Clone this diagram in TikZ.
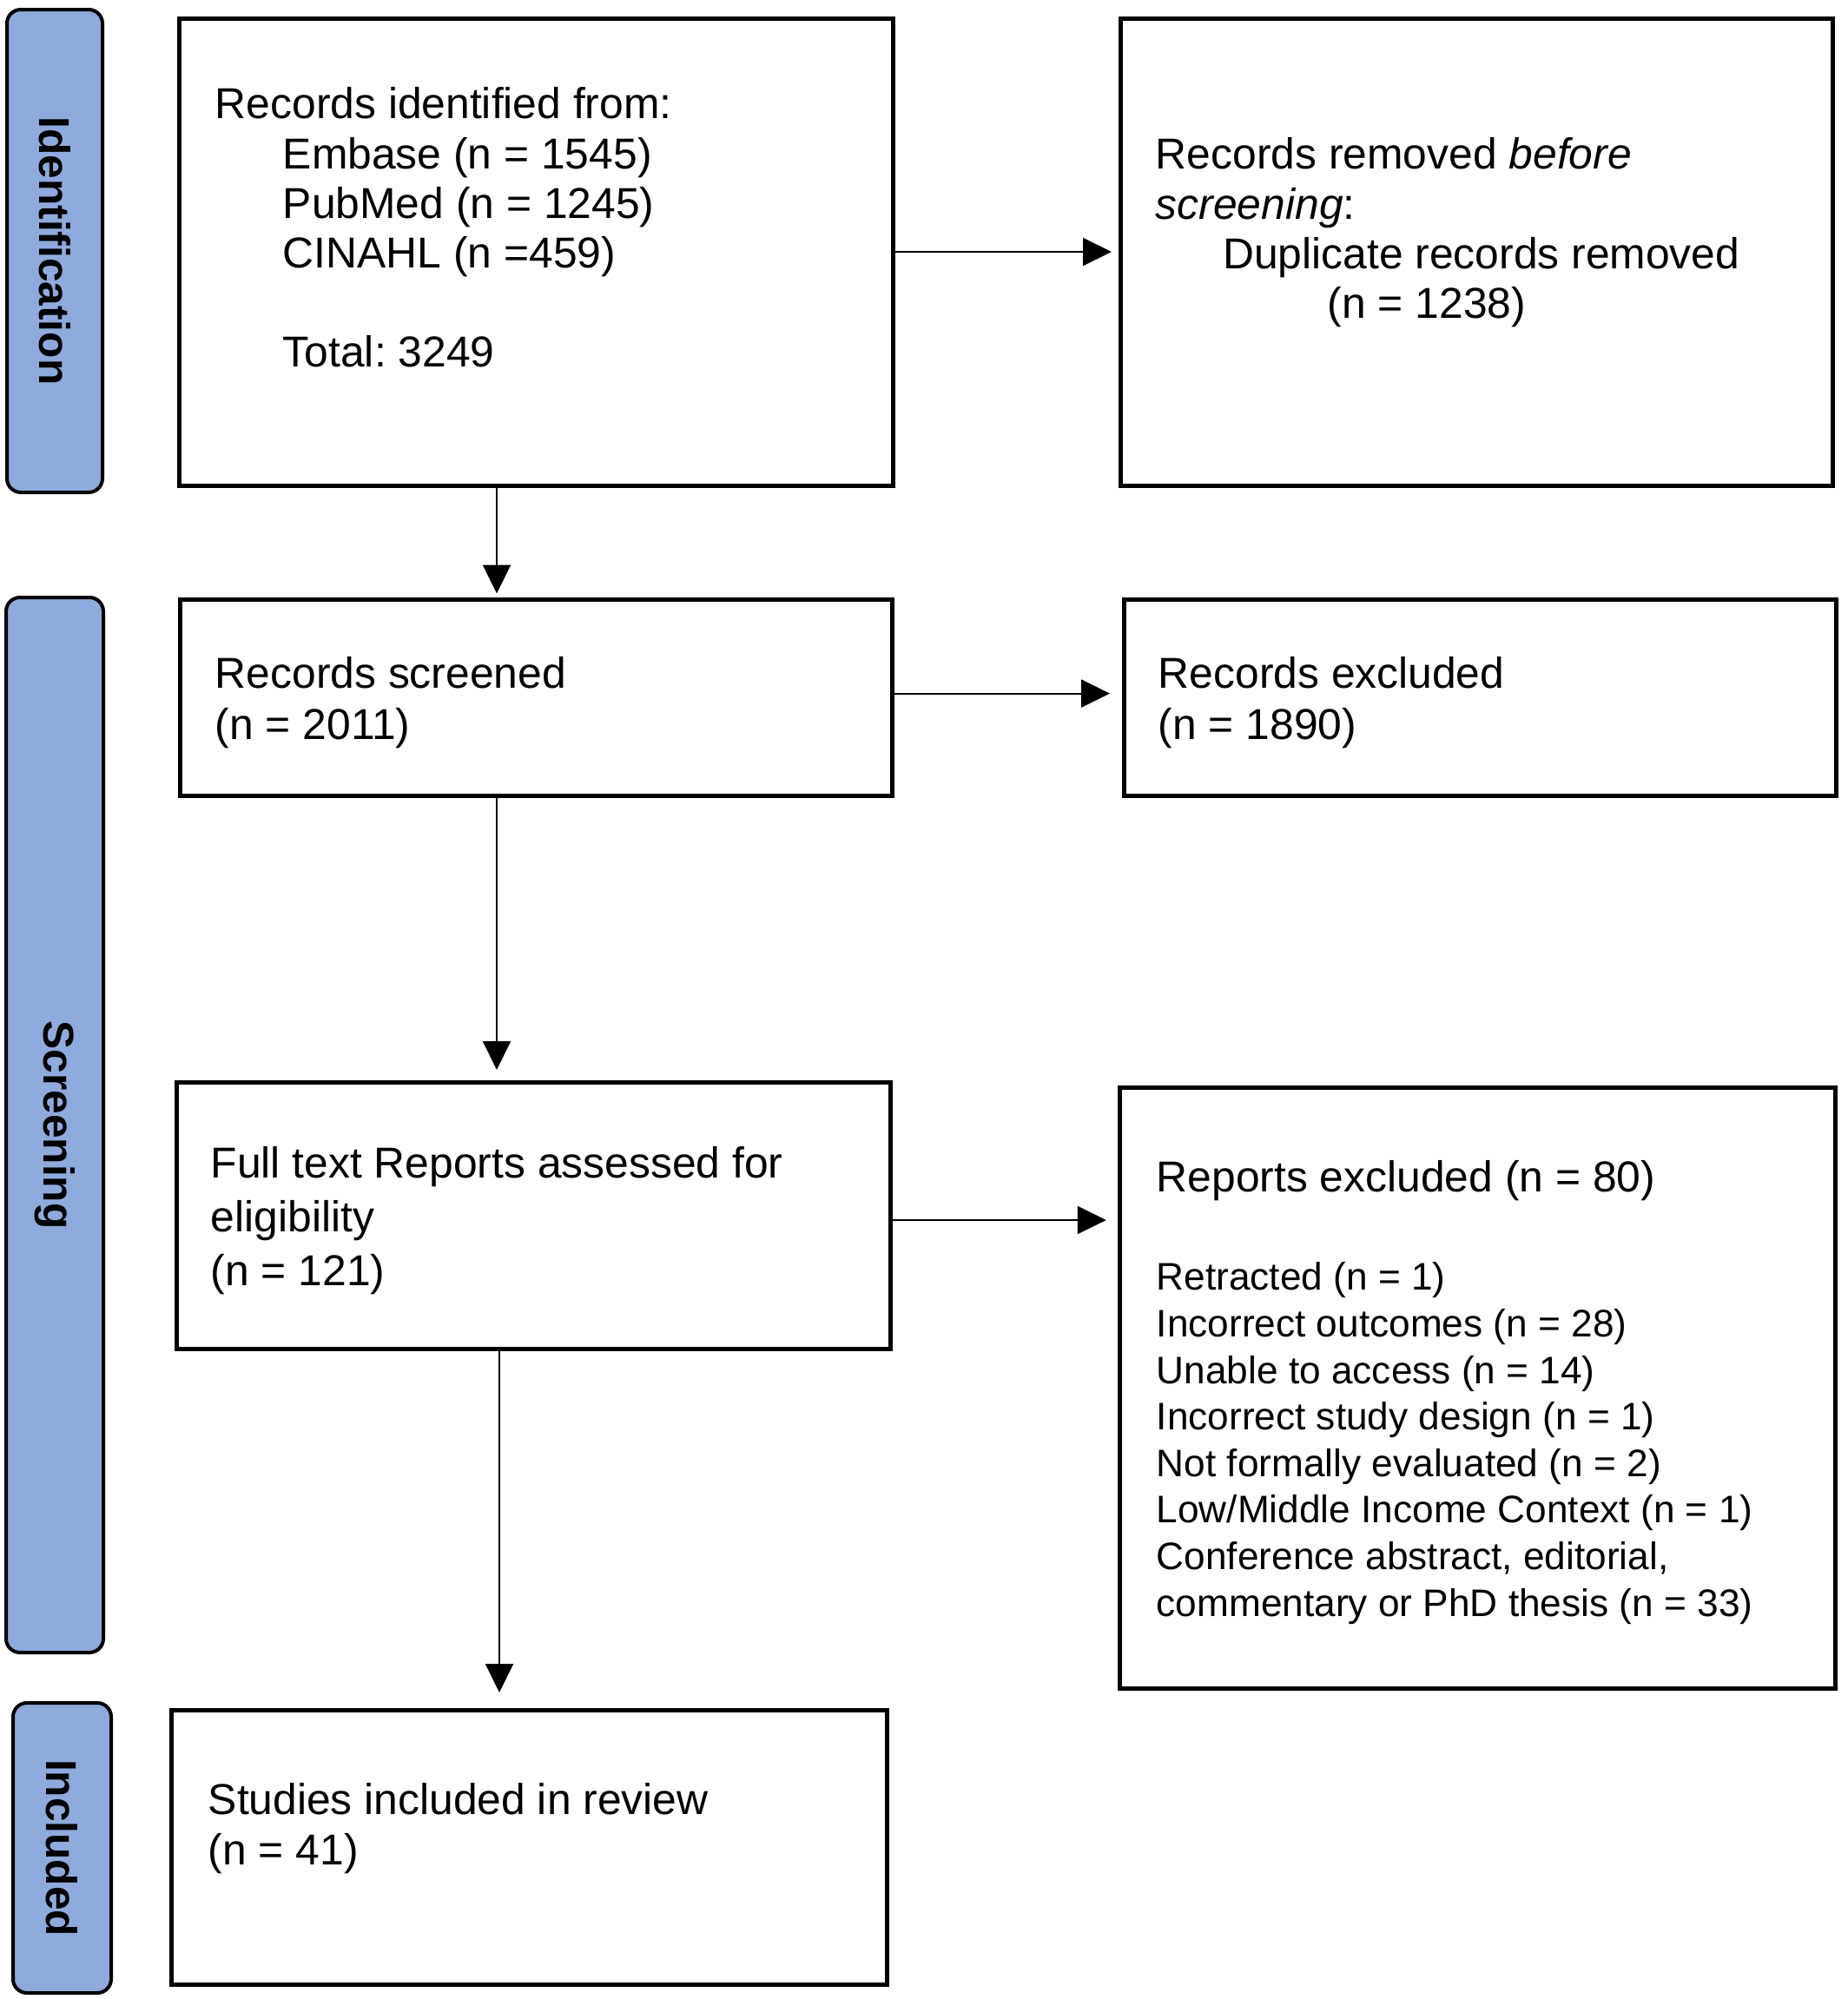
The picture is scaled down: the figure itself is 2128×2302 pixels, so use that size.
\documentclass[tikz,border=0pt]{standalone}
\usepackage{fontspec}
\setmainfont{Liberation Sans}
\usetikzlibrary{arrows.meta}
\definecolor{labblue}{HTML}{8FAADC}
\frenchspacing
\begin{document}
\frenchspacing
\begin{tikzpicture}[x=0.25pt,y=-0.25pt,
  box/.style={draw=black, line width=1.25pt, rectangle, inner sep=0pt},
  phase/.style={draw=black, line width=1pt, fill=labblue, rounded corners=4pt, inner sep=0pt,
    rotate=-90, font=\bfseries\fontsize{12.4}{14}\selectfont},
  txt/.style={anchor=north west, inner sep=0pt, align=left},
  big/.style={font=\fontsize{12.45}{14.3}\selectfont},
  arr/.style={line width=0.5pt, -{Triangle[length=8.25pt,width=8pt]}}]
\fill[white] (0,0) rectangle (2128,2302);
\useasboundingbox (0,0) rectangle (2128,2302);

% phase labels
\node[phase, minimum width=139pt, minimum height=27.5pt] (L1) at (63,289) {Identification};
\node[phase, minimum width=303.75pt, minimum height=28pt] (L2) at (63,1295.5) {Screening};
\node[phase, minimum width=83.5pt, minimum height=28.25pt] (L3) at (71.5,2128) {Included};

% boxes
\node[box, minimum width=205.5pt, minimum height=134.5pt] (b1) at (617,290) {};
\node[box, minimum width=205pt, minimum height=134.5pt] (b2) at (1700.5,290) {};
\node[box, minimum width=205pt, minimum height=56.5pt] (b3) at (617.5,803) {};
\node[box, minimum width=205pt, minimum height=56.5pt] (b4) at (1704.5,803) {};
\node[box, minimum width=205.5pt, minimum height=76.75pt] (b5) at (614.5,1400) {};
\node[box, minimum width=206pt, minimum height=173pt] (b6) at (1701.5,1598.5) {};
\node[box, minimum width=206pt, minimum height=79pt] (b7) at (609.5,2127.5) {};

% texts
\node[txt, big] (t1) at (247,100) {Records identified from:\\
\hspace*{19.5pt}Embase (n = 1545)\\
\hspace*{19.5pt}PubMed (n = 1245)\\
\hspace*{19.5pt}CINAHL (n =459)\\[14.3pt]
\hspace*{19.5pt}Total: 3249};
\node[txt, big] (t2) at (1330,158) {Records removed \textit{before}\\
\textit{screening}:\\
\hspace*{19.35pt}Duplicate records removed\\
\hspace*{49.5pt}(n = 1238)};
\node[txt, font=\fontsize{12.45}{14.7}\selectfont] (t3) at (247,756) {Records screened\\(n = 2011)};
\node[txt, font=\fontsize{12.45}{14.7}\selectfont] (t4) at (1333,756) {Records excluded\\(n = 1890)};
\node[txt, font=\fontsize{12.45}{15.4}\selectfont] (t5) at (242,1320) {Full text Reports assessed for\\eligibility\\(n = 121)};
\node[txt, big] (t6a) at (1331,1336) {Reports excluded (n = 80)};
\node[txt, font=\fontsize{11.05}{13.4}\selectfont] (t6b) at (1331,1453) {Retracted (n = 1)\\
Incorrect outcomes (n = 28)\\
Unable to access (n = 14)\\
Incorrect study design (n = 1)\\
Not formally evaluated (n = 2)\\
Low/Middle Income Context (n = 1)\\
Conference abstract, editorial,\\
commentary or PhD thesis (n = 33)};
\node[txt, big] (t7) at (239,2053) {Studies included in review\\(n = 41)};

% connector guides
\coordinate (x1) at (572,0);
\coordinate (x2) at (572,0);
\coordinate (x3) at (575,0);
\coordinate (y3) at (0,798.6);
\coordinate (y5) at (0,1405);

% connectors
\draw[arr, shorten >=2pt] (b1.east) -- (b2.west);
\draw[arr, shorten >=1pt] (b1.south -| x1) -- (b3.north -| x1);
\draw[arr, shorten >=3.5pt] (b3.east |- y3) -- (b4.west |- y3);
\draw[arr, shorten >=3pt] (b3.south -| x2) -- (b5.north -| x2);
\draw[arr, shorten >=3.3pt] (b5.east |- y5) -- (b6.west |- y5);
\draw[arr, shorten >=4.5pt] (b5.south -| x3) -- (b7.north -| x3);
\end{tikzpicture}
\end{document}
